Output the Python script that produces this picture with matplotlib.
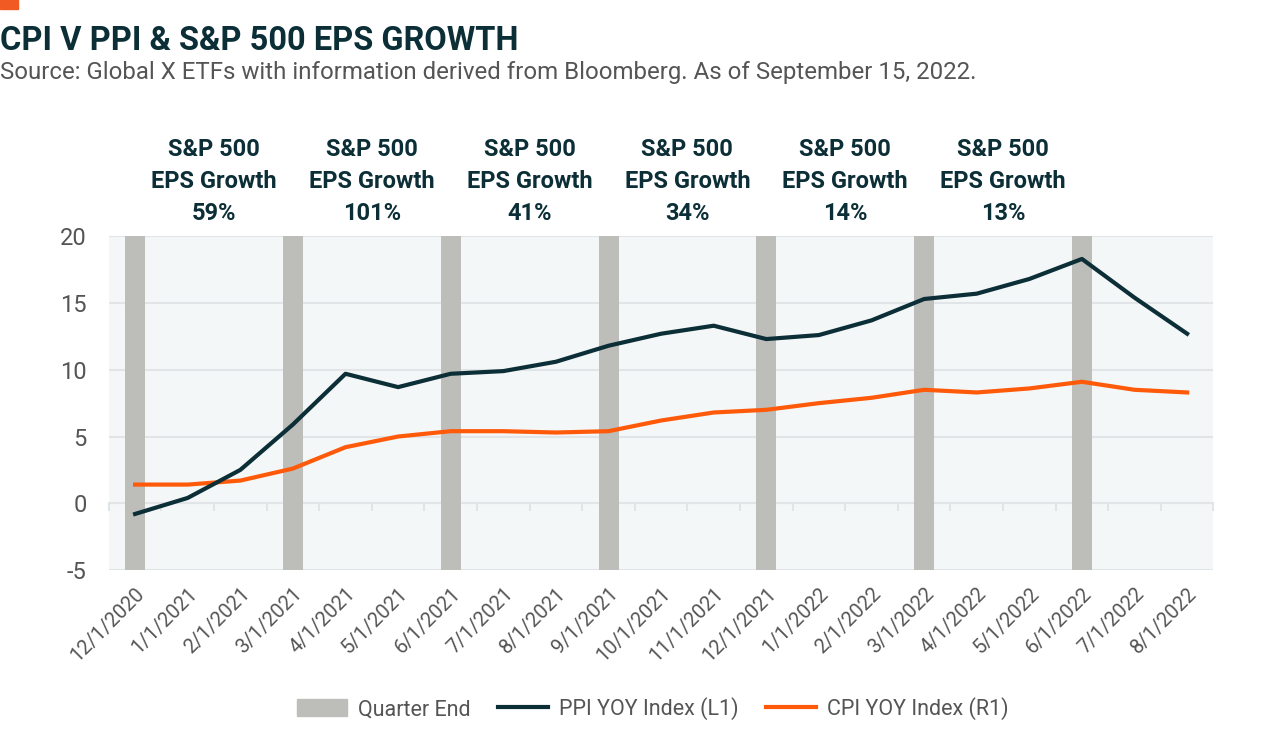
import numpy as np
import matplotlib.pyplot as plt
from matplotlib.patches import Patch
from matplotlib.lines import Line2D

plt.rcParams['font.family'] = ['Roboto', 'DejaVu Sans']
plt.rcParams['axes.unicode_minus'] = False

months = ['12/1/2020', '1/1/2021', '2/1/2021', '3/1/2021', '4/1/2021', '5/1/2021',
          '6/1/2021', '7/1/2021', '8/1/2021', '9/1/2021', '10/1/2021', '11/1/2021',
          '12/1/2021', '1/1/2022', '2/1/2022', '3/1/2022', '4/1/2022', '5/1/2022',
          '6/1/2022', '7/1/2022', '8/1/2022']
ppi = [-0.8, 0.4, 2.5, 5.9, 9.7, 8.7, 9.7, 9.9, 10.6, 11.8, 12.7, 13.3,
       12.3, 12.6, 13.7, 15.3, 15.7, 16.8, 18.3, 15.4, 12.7]
cpi = [1.4, 1.4, 1.7, 2.6, 4.2, 5.0, 5.4, 5.4, 5.3, 5.4, 6.2, 6.8,
       7.0, 7.5, 7.9, 8.5, 8.3, 8.6, 9.1, 8.5, 8.3]
quarter_ends = ['12/1/2020', '3/1/2021', '6/1/2021', '9/1/2021', '12/1/2021', '3/1/2022', '6/1/2022']
eps_growth = ['59%', '101%', '41%', '34%', '14%', '13%']

DARK = '#0c2f37'
ORANGE = '#ff5a0a'
BARGRAY = '#bdbdba'
GRID = '#e2e5e7'
TXT = '#555555'

fig = plt.figure(figsize=(12.8, 7.36), dpi=100)
ax = fig.add_axes([0.085, 0.2255, 0.863, 0.4535])
ax.set_facecolor('#f3f7f8')

x = np.arange(len(months))
ymin, ymax = -5, 20

for y in range(ymin, ymax + 1, 5):
    ax.axhline(y, color=GRID, lw=1.5, zorder=1)

qx = [months.index(q) for q in quarter_ends]
ax.bar(qx, ymax - ymin, bottom=ymin, width=0.38, color=BARGRAY, zorder=2)

ax.plot(x, ppi, color=DARK, lw=3, zorder=4)
ax.plot(x, cpi, color=ORANGE, lw=3, zorder=3)

ax.set_xlim(-0.5, len(months) - 0.5)
ax.set_ylim(ymin, ymax)
ax.set_yticks(range(ymin, ymax + 1, 5))
ax.set_xticks(x)
ax.set_xticklabels(months, rotation=45, ha='right', rotation_mode='anchor')
ax.tick_params(axis='x', length=0, pad=10, labelsize=14.5, labelcolor=TXT)
ax.tick_params(axis='y', length=0, pad=16, labelsize=17, labelcolor=TXT)
for s in ax.spines.values():
    s.set_visible(False)

# zero line with tick marks between categories
sec = ax.secondary_xaxis((0 - ymin) / (ymax - ymin))
sec.set_xticks(np.arange(-0.5, len(months), 1.0))
sec.set_xticklabels([])
sec.tick_params(length=6, color=GRID, width=1.5)
sec.spines['bottom'].set_color(GRID)
sec.spines['bottom'].set_linewidth(1.5)

for i, g in enumerate(eps_growth):
    mid = (qx[i] + qx[i + 1]) / 2
    ax.annotate('S&P 500\nEPS Growth\n' + g, xy=(mid, 1.033), xycoords=('data', 'axes fraction'),
                ha='center', va='bottom', fontsize=17, fontweight='bold', color=DARK,
                linespacing=1.5)

fig.patches.append(plt.Rectangle((0, 1 - 9 / 736), 18 / 1280, 9 / 736,
                                 transform=fig.transFigure, color='#f15a22'))
fig.text(0.0, 0.932, 'CPI V PPI & S&P 500 EPS GROWTH', fontsize=23.5, fontweight='bold',
         color=DARK, va='baseline', ha='left')
fig.text(0.0, 0.893, 'Source: Global X ETFs with information derived from Bloomberg. As of September 15, 2022.',
         fontsize=17.3, color=TXT, va='baseline', ha='left')

handles = [Patch(color=BARGRAY), Line2D([], [], color=DARK, lw=3), Line2D([], [], color=ORANGE, lw=3)]
labels = ['Quarter End', 'PPI YOY Index (L1)', 'CPI YOY Index (R1)']
fig.legend(handles, labels, loc='center', bbox_to_anchor=(0.51, 0.037), ncol=3, frameon=False,
           fontsize=15.5, labelcolor=TXT, handlelength=2.3, handleheight=0.8,
           columnspacing=1.3, handletextpad=0.5)

fig.savefig('out.png', dpi=100)
